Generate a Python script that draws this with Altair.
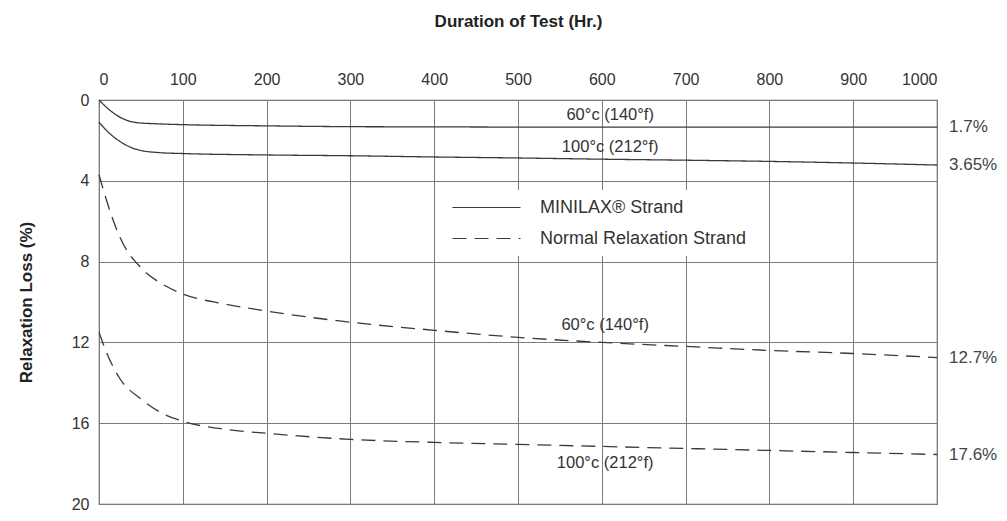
import altair as alt
import pandas as pd

FONT = "Liberation Sans"

# ---- data ----
mini60_h = [0, 10, 25, 45, 70, 100, 200, 300, 400, 500, 600, 700, 800, 900, 1000]
mini60_v = [0, 0.4, 0.85, 1.12, 1.18, 1.22, 1.28, 1.32, 1.33, 1.34, 1.34, 1.34, 1.34, 1.34, 1.34]

mini100_h = [0, 10, 25, 45, 70, 100, 200, 300, 400, 500, 600, 700, 800, 900, 1000]
mini100_v = [1.1, 1.55, 2.05, 2.45, 2.6, 2.65, 2.72, 2.76, 2.82, 2.87, 2.93, 2.98, 3.04, 3.12, 3.22]

norm60_h = [0, 10, 25, 50, 75, 100, 150, 200, 300, 400, 500, 600, 700, 800, 900, 1000]
norm60_v = [3.7, 5.1, 6.8, 8.3, 9.1, 9.6, 10.1, 10.45, 11.0, 11.4, 11.75, 12.0, 12.2, 12.4, 12.55, 12.75]

norm100_h = [0, 10, 25, 50, 75, 100, 150, 200, 300, 400, 500, 600, 700, 800, 900, 1000]
norm100_v = [11.5, 12.6, 13.8, 14.8, 15.5, 15.9, 16.3, 16.5, 16.8, 16.95, 17.05, 17.15, 17.25, 17.35, 17.45, 17.55]

strand_types = ["MINILAX® Strand", "Normal Relaxation Strand"]

curve_labels = ["60°c (140°f)", "100°c (212°f)", "60°c (140°f)", "100°c (212°f)"]
curve_label_x = [610, 610, 604, 604]
curve_label_y = [0.72, 2.35, 11.15, 17.95]

end_labels = ["1.7%", "3.65%", "12.7%", "17.6%"]

x_ticks = list(range(0, 1001, 100))
y_ticks = [0, 4, 8, 12, 16, 20]

# ---- build tables ----
rows = []
for cid, (hs, vs, st) in enumerate([
    (mini60_h, mini60_v, strand_types[0]),
    (mini100_h, mini100_v, strand_types[0]),
    (norm60_h, norm60_v, strand_types[1]),
    (norm100_h, norm100_v, strand_types[1]),
]):
    for h, v in zip(hs, vs):
        rows.append({"curve": cid, "hours": h, "loss": v, "strand": st})
df = pd.DataFrame(rows)

lab_df = pd.DataFrame({"hours": curve_label_x, "loss": curve_label_y, "text": curve_labels})
end_df = pd.DataFrame({
    "hours": [1000] * 4,
    "loss": [mini60_v[-1], mini100_v[-1], norm60_v[-1], norm100_v[-1]],
    "text": end_labels,
})

xscale = alt.Scale(domain=[0, 1000], nice=False, zero=False)
yscale = alt.Scale(domain=[0, 20], reverse=True, nice=False)

lines = alt.Chart(df).mark_line(color="#3a3a3a", strokeWidth=1.3, interpolate="monotone").encode(
    x=alt.X("hours:Q", scale=xscale,
            axis=alt.Axis(orient="top", values=x_ticks, format="d", title="Duration of Test (Hr.)",
                          grid=True, ticks=False, domain=False, labelPadding=13,
                          titlePadding=41)),
    y=alt.Y("loss:Q", scale=yscale,
            axis=alt.Axis(values=y_ticks, title="Relaxation Loss (%)", grid=True,
                          ticks=False, domain=False, labelPadding=10, titlePadding=36)),
    detail="curve:N",
    strokeDash=alt.StrokeDash(
        "strand:N",
        scale=alt.Scale(domain=strand_types, range=[[1, 0], [14, 8]]),
        legend=alt.Legend(
            title=None, orient="none", legendX=370, legendY=90,
            symbolType="M-4,0H4", symbolSize=289, symbolStrokeWidth=1.2,
            symbolStrokeColor="#3a3a3a", symbolFillColor="transparent",
            labelFont=FONT, labelFontSize=18, labelColor="#333333", labelLimit=0,
            labelOffset=44, rowPadding=12, fillColor="white",
            padding=8,
        ),
    ),
)

labels = alt.Chart(lab_df).mark_text(font=FONT, fontSize=16.5, color="#333333", align="center",
                                      baseline="middle").encode(
    x=alt.X("hours:Q", scale=xscale), y=alt.Y("loss:Q", scale=yscale), text="text:N")

ends = alt.Chart(end_df).mark_text(font=FONT, fontSize=17, color="#444444", align="left",
                                    baseline="middle", dx=12).encode(
    x=alt.X("hours:Q", scale=xscale), y=alt.Y("loss:Q", scale=yscale), text="text:N")

chart = alt.layer(lines, labels, ends).properties(
    width=838, height=404,
    autosize=alt.AutoSizeParams(type="none"),
    padding={"left": 91, "top": 92, "right": 62, "bottom": 9},
).configure(background="white").configure_view(stroke="#666666", strokeWidth=1.2).configure_axis(
    gridColor="#7a7a7a", gridWidth=1, gridOpacity=1,
    labelFont=FONT, labelFontSize=16, labelColor="#333333",
    titleFont=FONT, titleFontSize=17, titleFontWeight="bold", titleColor="#222222",
)

chart.save("out.html", embed_options={"renderer": "svg", "actions": False})
